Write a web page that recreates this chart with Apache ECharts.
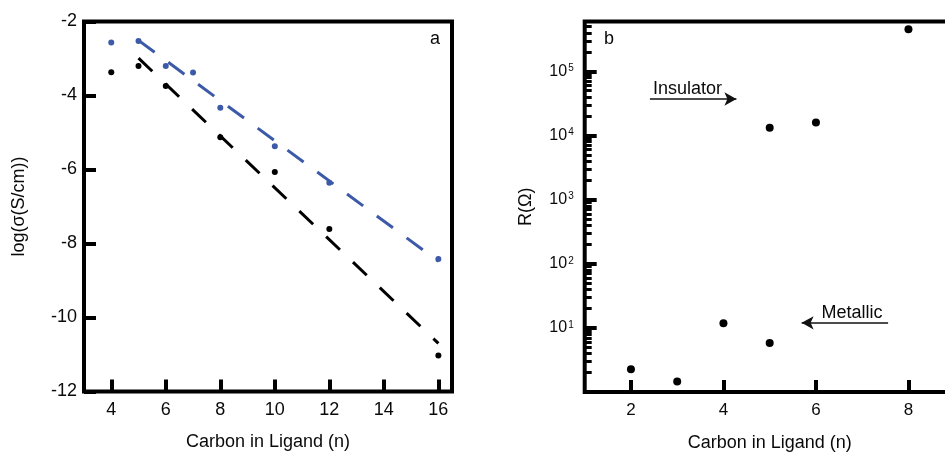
<!DOCTYPE html>
<html><head><meta charset="utf-8">
<script src="https://cdn.jsdelivr.net/npm/echarts@6/dist/echarts.min.js"></script>
<style>html,body{margin:0;padding:0;background:#fff}#c{width:945px;height:452px}</style>
</head><body><div id="c"></div>
<script>
// Panel a: log conductivity vs carbon count
const carbonBlue = [4, 5, 6, 7, 8, 10, 12, 16];
const sigmaBlue = [-2.57, -2.53, -3.2, -3.38, -4.33, -5.37, -6.36, -8.42];
const carbonBlack = [4, 5, 6, 8, 10, 12, 16];
const sigmaBlack = [-3.37, -3.2, -3.74, -5.13, -6.07, -7.61, -11.03];
const fitBlueX = [5, 16];
const fitBlueY = [-2.51, -8.48];
const fitBlackX = [5, 16];
const fitBlackY = [-2.99, -10.70];
const xTicksA = [4, 6, 8, 10, 12, 14, 16];

// Panel b: resistance vs carbon count
const carbonB = [2, 3, 4, 5, 5, 6, 8];
const resistance = [2.27, 1.46, 11.8, 5.8, 13200, 15900, 456000];
const xTicksB = [2, 4, 6, 8];
const yMajorB = [1, 10, 100, 1000, 10000, 100000];
const yLabelsB = [10, 100, 1000, 10000, 100000];
const yMinorB = [2,3,4,5,6,7,8,9, 20,30,40,50,60,70,80,90, 200,300,400,500,600,700,800,900,
  2000,3000,4000,5000,6000,7000,8000,9000, 20000,30000,40000,50000,60000,70000,80000,90000,
  200000,300000,400000,500000];

// Annotations (data coordinates of panel b)
const insulatorArrow = [[2.41, 37100], [4.28, 37100]];
const metallicArrow = [[7.56, 12], [5.69, 12]];

const FONT = 'Liberation Sans, Arial, sans-serif';
const TXT = '#0a0a0a';
const BLUE = '#3c5aa8';

function zip(xs, ys) { return xs.map((x, i) => [x, ys[i]]); }

const chart = echarts.init(document.getElementById('c'));
chart.setOption({
  animation: false,
  backgroundColor: '#fff',
  grid: [
    { left: 84, top: 21.5, width: 368, height: 370, show: true, borderColor: '#000', borderWidth: 4,
      backgroundColor: 'transparent', outerBoundsMode: 'none', containLabel: false },
    { left: 584.7, top: 21.5, width: 370, height: 370.5, show: true, borderColor: '#000', borderWidth: 4,
      backgroundColor: 'transparent', outerBoundsMode: 'none', containLabel: false }
  ],
  xAxis: [
    { type: 'value', gridIndex: 0, min: 3, max: 16.5,
      name: 'Carbon in Ligand (n)', nameLocation: 'middle', nameGap: 42,
      nameTextStyle: { fontFamily: FONT, fontSize: 18, color: TXT },
      axisLine: { show: false, onZero: false },
      axisTick: { show: true, inside: true, length: 12, customValues: xTicksA, lineStyle: { color: '#000', width: 4 } },
      axisLabel: { customValues: xTicksA, margin: 10, fontFamily: FONT, fontSize: 18, color: TXT },
      splitLine: { show: false } },
    { type: 'value', gridIndex: 1, min: 1, max: 9,
      name: 'Carbon in Ligand (n)', nameLocation: 'middle', nameGap: 42,
      nameTextStyle: { fontFamily: FONT, fontSize: 18, color: TXT },
      axisLine: { show: false, onZero: false },
      axisTick: { show: true, inside: true, length: 12, customValues: xTicksB, lineStyle: { color: '#000', width: 4 } },
      axisLabel: { customValues: xTicksB, margin: 10, fontFamily: FONT, fontSize: 17, color: TXT },
      splitLine: { show: false } }
  ],
  yAxis: [
    { type: 'value', gridIndex: 0, min: -12, max: -2, interval: 2,
      name: 'log(σ(S/cm))', nameLocation: 'middle', nameGap: 56,
      nameTextStyle: { fontFamily: FONT, fontSize: 18, color: TXT },
      axisLine: { show: false, onZero: false },
      axisTick: { show: true, inside: true, length: 12, lineStyle: { color: '#000', width: 4 } },
      axisLabel: { margin: 7, fontFamily: FONT, fontSize: 18, color: TXT },
      splitLine: { show: false } },
    { type: 'log', gridIndex: 1, min: 1, max: 600000, logBase: 10,
      name: 'R(Ω)', nameLocation: 'middle', nameGap: 50,
      nameTextStyle: { fontFamily: FONT, fontSize: 18, color: TXT },
      axisLine: { show: false, onZero: false },
      axisTick: { show: true, inside: true, length: 12, customValues: yMajorB, lineStyle: { color: '#000', width: 4 } },
      axisLabel: { customValues: yLabelsB, margin: 11,
        formatter: v => '{b|10}{s|' + Math.round(Math.log10(v)) + '}',
        rich: { b: { fontFamily: FONT, fontSize: 16, color: TXT, verticalAlign: 'bottom' },
                s: { fontFamily: FONT, fontSize: 10, color: TXT, verticalAlign: 'top', padding: [0, 0, 6, 1] } } },
      splitLine: { show: false } },
    { type: 'log', gridIndex: 1, min: 1, max: 600000, logBase: 10, position: 'left', offset: 0,
      axisLine: { show: false, onZero: false },
      axisTick: { show: true, inside: true, length: 7, customValues: yMinorB, lineStyle: { color: '#000', width: 3 } },
      axisLabel: { show: false },
      splitLine: { show: false } }
  ],
  series: [
    { type: 'line', xAxisIndex: 0, yAxisIndex: 0, data: zip(fitBlueX, fitBlueY), showSymbol: false, symbol: 'none',
      lineStyle: { color: BLUE, width: 3, type: [20, 17] }, z: 2 },
    { type: 'line', xAxisIndex: 0, yAxisIndex: 0, data: zip(fitBlackX, fitBlackY), showSymbol: false, symbol: 'none',
      lineStyle: { color: '#000', width: 3, type: [19, 18] }, z: 2 },
    { type: 'scatter', xAxisIndex: 0, yAxisIndex: 0, data: zip(carbonBlue, sigmaBlue), symbolSize: 6,
      itemStyle: { color: BLUE, opacity: 1 }, z: 3 },
    { type: 'scatter', xAxisIndex: 0, yAxisIndex: 0, data: zip(carbonBlack, sigmaBlack), symbolSize: 6,
      itemStyle: { color: '#000', opacity: 1 }, z: 3 },
    { type: 'scatter', xAxisIndex: 1, yAxisIndex: 1, data: zip(carbonB, resistance), symbolSize: 8,
      itemStyle: { color: '#000', opacity: 1 }, z: 3,
      markLine: { silent: true, symbol: ['none', 'arrow'], symbolSize: [10, 12], animation: false,
        lineStyle: { type: 'solid', color: '#111', width: 1.6 }, label: { show: false },
        emphasis: { disabled: true },
        data: [
          [{ coord: insulatorArrow[0] }, { coord: insulatorArrow[1] }],
          [{ coord: metallicArrow[0] }, { coord: metallicArrow[1] }]
        ] } }
  ],
  graphic: [
    { type: 'text', x: 435, y: 39.5, style: { text: 'a', font: '18px ' + FONT, fill: TXT, align: 'center', verticalAlign: 'middle' } },
    { type: 'text', x: 609, y: 39.5, style: { text: 'b', font: '18px ' + FONT, fill: TXT, align: 'center', verticalAlign: 'middle' } },
    { type: 'text', x: 653, y: 89.5, style: { text: 'Insulator', font: '18px ' + FONT, fill: TXT, align: 'left', verticalAlign: 'middle' } },
    { type: 'text', x: 821.5, y: 313, style: { text: 'Metallic', font: '18px ' + FONT, fill: TXT, align: 'left', verticalAlign: 'middle' } }
  ]
});
</script></body></html>
